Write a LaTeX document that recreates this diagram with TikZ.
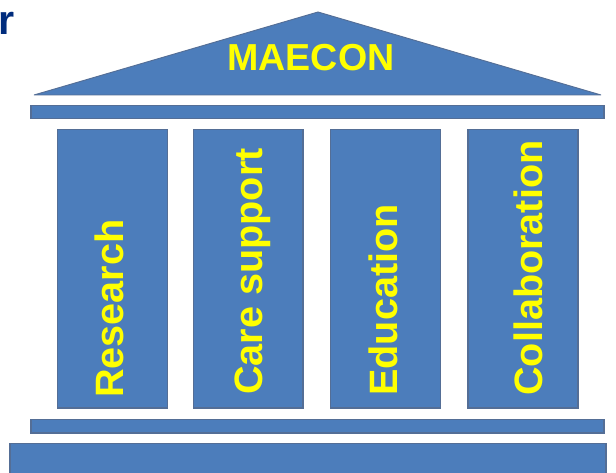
\documentclass[tikz,border=0pt]{standalone}
\usepackage{fontspec}
\setmainfont{Liberation Sans}
\definecolor{blu}{RGB}{76,125,187}
\definecolor{bdr}{RGB}{84,110,150}
\definecolor{yel}{RGB}{255,255,0}
\definecolor{navy}{RGB}{0,44,125}
\tikzset{
  x=0.75pt,y=-0.75pt,
  part/.style={fill=blu,draw=bdr,line width=1pt},
  lab/.style={text=yel,font=\bfseries\fontsize{29.7}{30}\selectfont,inner sep=0pt},
}
\begin{document}
\begin{tikzpicture}
\useasboundingbox (0,0) rectangle (616,473);
\fill[white] (0,0) rectangle (616,473);
\node[anchor=base west,text=navy,font=\bfseries\fontsize{31}{31}\selectfont,inner sep=0pt] (frag) at (-2,35) {r};
\path[fill=blu,draw=bdr,line width=0.7pt,line join=bevel] (34,95) -- (318,12) -- (601,95) -- cycle;
\node[lab,font=\bfseries\fontsize{28.2}{28}\selectfont] (title) at (311,58) {MAECON};
\path[part] (31,105.5) rectangle (604,118.5);
\path[part] (57.5,129.5) rectangle (167.5,408);
\path[part] (193.5,129.5) rectangle (303,408);
\path[part] (330.5,129.5) rectangle (440.5,408);
\path[part] (468,129.5) rectangle (578,408);
\node[lab,rotate=90,anchor=base west] (c1) at (123,398) {Research};
\node[lab,rotate=90,anchor=base west] (c2) at (262,395) {Care support};
\node[lab,rotate=90,anchor=base west] (c3) at (397,396) {Education};
\node[lab,rotate=90,anchor=base west] (c4) at (542,396) {Collaboration};
\path[part] (31,419.5) rectangle (604,433);
\path[part] (10,443.5) rectangle (606,475);
\end{tikzpicture}
\end{document}
